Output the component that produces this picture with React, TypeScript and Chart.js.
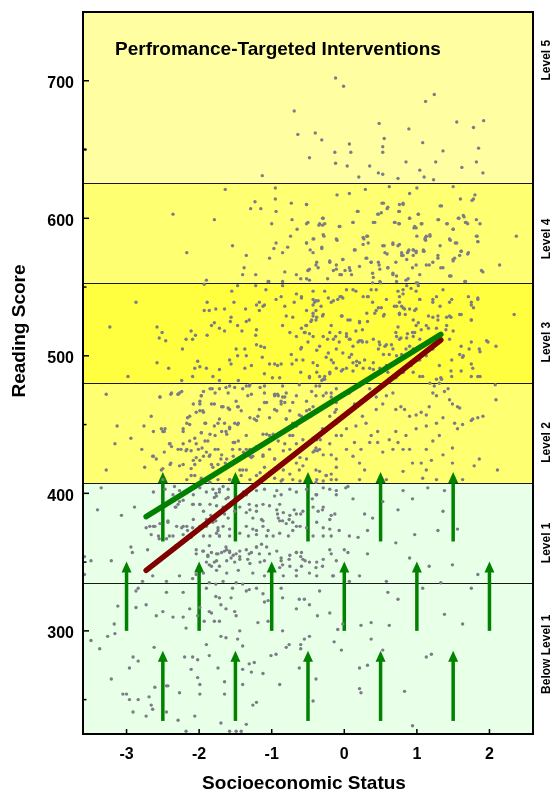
import React, { useEffect, useRef } from "react";
import { Chart, registerables } from "chart.js";

Chart.register(...registerables);

// ---------- axes ----------
const X_MIN = -3.6;
const X_MAX = 2.6;
const Y_MIN = 225;
const Y_MAX = 750;
const xTickValues = [-3, -2, -1, 0, 1, 2];
const yTickValues = [300, 400, 500, 600, 700];
const yMinorTickValues = [250, 350, 450, 550, 650];

// ---------- proficiency bands ----------
const bandCutoffs = [225, 334.75, 407.47, 480.18, 552.89, 625.61, 750];
const bandColors = ["#E8FFE8", "#E8FFE8", "#FFFF72", "#FFFF40", "#FFFF72", "#FFFFA2"];
const bandLabels = ["Below Level 1", "Level 1", "Level 2", "Level 3", "Level 4", "Level 5"];
const bandLabelScores = [283, 364, 437, 510, 585, 715];

// ---------- regression lines ----------
const redLineSES = [-2.73, 1.33];
const redLineScore = [344, 511.5];
const greenLineSES = [-2.73, 1.33];
const greenLineScore = [383, 515.6];

// ---------- intervention arrows ----------
const arrowUpperSES = [-2.5, -1.5, -0.5, 0.5, 1.5];
const arrowUpperFrom = 365;
const arrowUpperTo = 415.5;
const arrowMiddleSES = [-3, -2, -1, 0, 1, 2];
const arrowMiddleFrom = 300;
const arrowMiddleTo = 350.5;
const arrowLowerSES = [-2.5, -1.5, -0.5, 0.5, 1.5];
const arrowLowerFrom = 234.5;
const arrowLowerTo = 285.5;

// ---------- students (SES, reading score) ----------
const studentsLevel5: number[][] = [
  [-0.12,702],[-0.01,696],[1.24,690],[1.12,685],[-0.69,678],[-0.64,661],[-0.4,662],[-0.31,657],[0.48,669],[0.55,658],
  [0.89,665],[1.55,670],[1.92,671],[1.78,666],[1.08,655],[0.07,654],[-0.13,648],[0.09,648],[0.53,652],[0.53,648],
  [1.36,649],[1.85,651],[-0.48,644],[-0.12,640],[0.04,638],[0.35,638],[0.85,641],[1.26,641],[1.82,641],[1.62,637],
  [1.04,635],[1.91,633],[0.47,633],[0.53,632],[1.1,630],[1.23,628],[0.2,630],[0.74,629],[-1.13,631],[-3.57,650],
];

const studentsLevel4: number[][] = [
  [-1.64,621],[-0.95,622],[-0.95,614],[-1.23,612],[-1.29,607],[-1.15,607],[-0.94,605],[-0.73,611],[-0.52,610],[-0.1,617],
  [0.07,618],[0.29,621],[0.62,623],[1.0,622],[1.5,623],[0.9,618],[1.8,617],[1.6,614],[1.76,613],[0.81,610],
  [0.52,611],[0.46,603],[0.59,607],[0.75,605],[1.32,609],[1.02,603],[0.18,605],[-2.36,603],[-1.79,599],[-1.0,596],
  [-0.72,599],[-0.52,596],[-0.3,600],[-0.3,595],[-0.35,595],[-0.07,594],[0.12,597],[0.4,597],[0.69,597],[0.75,596],
  [0.9,600],[1.07,596],[0.96,593],[1.3,599],[1.42,596],[1.58,600],[1.65,601],[1.67,597],[1.5,592],[1.7,596],
  [-0.65,592],[-0.74,587],[-0.94,582],[-0.78,579],[-0.52,582],[-0.42,585],[-0.28,587],[-0.1,584],[0.27,585],[0.32,587],
  [0.26,581],[0.55,580],[0.67,581],[0.74,580],[1.0,587],[1.12,586],[1.18,587],[1.12,584],[1.46,584],[1.53,582],
  [1.83,587],[1.84,583],[2.37,587],[-1.54,580],[-0.97,578],[-0.47,577],[-0.31,578],[0.15,577],[0.89,577],[0.95,577],
  [1.09,577],[1.61,576],[-2.17,575],[-1.35,573],[-1.03,571],[-0.85,575],[-0.43,575],[0.14,577],[0.3,571],[0.37,568],
  [0.59,574],[0.81,573],[0.99,576],[1.1,576],[0.87,575],[1.29,571],[1.5,570],[1.59,573],[1.7,574],[2.14,566],
  [-1.38,564],[-1.22,559],[-1.4,559],[-0.82,561],[-0.66,559],[-0.5,562],[-0.39,566],[-0.2,568],[-0.11,563],[-0.02,570],
  [0.07,564],[-0.04,559],[0.21,565],[0.39,560],[0.48,566],[0.6,564],[0.67,559],[0.71,568],[0.94,564],[1.04,559],
  [1.17,566],[1.33,564],[1.47,558],[1.91,561],[-1.9,555],[-1.04,554],[-0.85,554],[-0.6,556],[-0.48,555],[-0.23,556],
  [0.39,553],[0.5,553],[0.85,555],[1.01,553],[1.67,554],
];

const studentsLevel4Centre: number[][] = [
  [-0.52,610],[0.54,611],[0.76,610],[0.81,611],[1.34,609],[1.78,614],[0.19,605],[-0.29,600],[-0.5,597],[-0.34,596],
  [-0.27,596],[-0.06,594],[0.12,597],[0.42,597],[0.47,603],[0.51,604],[0.6,608],[0.76,605],[0.9,600],[0.7,597],
  [0.76,596],[1.02,603],[0.97,594],[0.99,593],[1.06,596],[1.29,599],[1.41,596],[1.5,592],[1.57,600],[1.64,602],
  [1.68,597],[1.82,599],[1.87,596],[-0.52,582],[-0.43,585],[-0.31,579],[-0.29,588],[-0.11,585],[0.14,577],[0.26,586],
  [0.31,587],[0.33,582],[0.53,580],[0.56,575],[0.67,582],[0.76,581],[0.79,575],[0.88,576],[0.95,577],[0.99,575],
  [1.09,576],[1.13,587],[1.11,585],[1.18,588],[1.32,580],[1.45,585],[1.55,582],[1.61,576],[1.71,575],[1.82,587],
  [1.84,583],[-0.38,568],[-0.48,563],[-0.5,562],[-0.52,556],[-0.36,564],[-0.2,569],[-0.11,566],[-0.15,562],[-0.06,559],
  [0.01,562],[-0.02,570],[0.08,562],[0.1,559],[0.31,571],[0.37,568],[0.47,568],[0.49,563],[0.4,557],[0.6,564],
  [0.67,560],[0.72,558],[0.79,573],[0.86,570],[0.95,573],[0.99,566],[1.13,566],[1.22,568],[1.29,573],[1.36,564],
  [1.45,558],[1.5,569],[1.52,571],[1.66,554],[1.89,562],[0.49,554],[0.72,554],[0.88,556],[0.99,553],
];

const studentsLevel3: number[][] = [
  [-2.87,539],[-3.23,521],[-2.98,485],[-2.58,521],[-2.51,517],[-2.55,513],[-2.46,511],[-2.58,495],[-2.42,491],[-1.93,552],
  [-1.89,539],[-1.93,533],[-1.86,533],[-1.77,534],[-1.65,534],[-1.79,524],[-1.83,522],[-1.72,520],[-1.65,518],[-1.89,515],
  [-2.11,518],[-2.18,512],[-2.09,512],[-2.05,515],[-2.23,505],[-2.02,496],[-2.06,491],[-1.99,492],[-1.9,491],[-2.09,485],
  [-1.81,485],[-1.72,490],[-1.58,497],[-1.55,547],[-1.47,551],[-1.52,539],[-1.56,528],[-1.57,525],[-1.47,522],[-1.41,518],
  [-1.35,525],[-1.31,526],[-1.21,519],[-1.22,515],[-1.21,537],[-1.17,539],[-1.1,537],[-1.17,533],[-1.12,536],[-1.36,534],
  [-1.05,554],[-1.49,505],[-1.47,500],[-1.37,505],[-1.35,500],[-1.37,491],[-1.28,493],[-1.56,494],[-1.21,508],[-1.15,507],
  [-1.1,506],[-1.13,499],[-1.03,494],[-0.96,494],[-0.92,493],[-0.87,494],[-0.99,484],[-0.89,484],[-1.1,487],[-0.94,541],
  [-0.87,543],[-0.82,536],[-0.66,545],[-0.59,542],[-0.69,539],[-0.8,529],[-0.71,528],[-0.85,522],[-0.75,517],[-0.66,514],
  [-0.59,520],[-0.55,517],[-0.48,516],[-0.43,529],[-0.39,533],[-0.43,537],[-0.39,540],[-0.32,536],[-0.3,529],[-0.39,526],
  [-0.46,525],[-0.53,522],[-0.18,539],[-0.09,541],[-0.04,543],[-0.03,529],[0.05,526],[-0.23,512],[-0.12,514],[0.03,514],
  [0.07,512],[0.21,511],[0.25,510],[0.16,518],[0.21,524],[0.32,525],[0.25,519],[-0.07,510],[-0.11,505],[-0.34,507],
  [-0.25,499],[-0.18,497],[-0.37,493],[-0.43,495],[-0.57,497],[-0.66,497],[-0.73,501],[-0.72,494],[-0.6,505],[-0.6,488],
  [-0.48,484],[-0.34,485],[-0.27,483],[-0.2,487],[-0.04,489],[0.03,491],[0.12,495],[0.21,495],[0.07,499],[0.35,491],
  [0.42,487],[0.35,484],[0.44,548],[0.32,543],[0.39,539],[0.44,533],[0.51,535],[0.55,530],[0.69,536],[0.76,539],
  [0.81,535],[0.76,530],[0.84,530],[0.74,521],[0.71,517],[0.78,513],[0.87,516],[0.94,517],[0.99,522],[1.06,519],
  [1.13,522],[1.22,528],[1.29,526],[1.22,539],[0.99,534],[1.04,541],[0.92,549],[0.99,547],[1.36,548],[1.45,539],
  [1.59,530],[1.75,537],[1.84,541],[1.75,526],[1.47,528],[1.4,519],[1.45,512],[1.61,507],[1.72,505],[1.86,505],
  [1.98,510],[2.09,507],[2.34,530],[1.77,491],[1.84,485],[1.75,485],[1.63,499],[1.31,493],[1.33,484],[1.47,489],
  [1.1,502],[1.01,497],[0.92,493],[0.81,488],[0.71,484],[0.58,493],[0.62,501],[0.58,508],[0.48,510],[0.85,505],
  [1.22,507],[1.27,483],[1.08,485],[-0.85,551],[-1.08,548],[-1.22,551],[-0.43,547],[-0.27,547],[0.03,548],[0.16,547],
  [0.74,547],[0.81,545],[1.27,543],
];

const studentsLevel3Centre: number[][] = [
  [-0.59,543],[-0.43,541],[-0.41,539],[-0.36,540],[-0.22,542],[-0.15,540],[-0.06,543],[-0.02,542],[0.12,548],[0.26,543],
  [0.33,543],[0.37,548],[0.58,541],[0.76,543],[0.86,551],[0.81,548],[1.02,551],[1.04,541],[1.22,541],[1.32,536],
  [1.48,541],[1.71,543],[1.84,542],[-0.43,531],[-0.52,533],[-0.29,530],[-0.45,526],[-0.38,528],[-0.52,522],[-0.54,517],
  [-0.43,514],[-0.5,510],[-0.59,506],[-0.18,522],[-0.04,529],[0.08,526],[0.21,525],[0.31,531],[0.42,531],[0.47,535],
  [0.54,529],[0.72,536],[0.76,531],[0.79,536],[0.83,534],[0.9,534],[0.97,533],[0.95,526],[1.02,524],[1.16,529],
  [1.29,529],[1.27,520],[1.41,528],[1.45,529],[1.61,530],[1.75,526],[1.78,535],[1.75,539],[-0.29,514],[-0.2,517],
  [-0.15,512],[-0.06,517],[0.03,516],[0.08,512],[0.12,507],[0.19,510],[0.24,511],[0.31,510],[0.4,512],[0.49,508],
  [0.56,507],[0.65,508],[0.72,514],[0.76,512],[0.86,513],[0.95,514],[0.97,517],[1.04,512],[1.16,520],[1.41,522],
  [1.5,518],[1.75,510],[1.87,503],[1.96,511],[-0.38,504],[-0.22,502],[-0.15,495],[-0.02,502],[0.1,501],[0.17,496],
  [0.28,497],[0.4,495],[0.47,505],[0.54,501],[0.67,505],[0.72,500],[0.79,501],[0.9,507],[0.95,505],[1.04,497],
  [1.13,500],[1.22,505],[1.48,497],[1.59,501],[1.64,500],[1.75,494],[1.87,485],[1.61,489],[1.48,485],[1.34,483],
  [1.18,480],[1.04,485],[0.95,488],[0.81,488],[0.72,485],[0.6,488],[0.49,491],[0.4,490],[0.26,491],[0.17,493],
  [0.12,489],[-0.02,490],[-0.11,491],[-0.2,488],[-0.29,483],[-0.38,488],[-0.48,485],[-0.27,485],
];

const studentsLevel2: number[][] = [
  [-3.28,472],[-3.13,449],[-3.16,436],[-2.94,440],[-3.28,417],[-2.76,449],[-2.66,456],[-2.79,432],[-2.75,419],[-2.64,427],
  [-2.52,447],[-2.48,445],[-2.54,470],[-2.39,472],[-2.48,430],[-2.41,436],[-2.39,422],[-2.27,473],[-2.29,472],[-2.22,445],
  [-2.13,450],[-2.16,455],[-2.25,432],[-2.18,431],[-2.13,438],[-2.06,440],[-2.04,459],[-1.99,465],[-1.97,471],[-1.95,460],
  [-1.91,451],[-1.97,444],[-1.96,433],[-2.04,426],[-2.06,421],[-2.11,413],[-1.97,410],[-1.9,430],[-1.86,427],[-1.88,438],
  [-1.82,476],[-1.79,465],[-1.79,449],[-1.72,454],[-1.74,432],[-1.7,425],[-1.67,463],[-1.6,462],[-1.63,477],[-1.58,478],
  [-1.49,467],[-1.47,463],[-1.51,451],[-1.47,450],[-1.63,445],[-1.51,437],[-1.54,432],[-1.64,422],[-1.49,424],[-1.58,410],
  [-1.4,476],[-1.33,471],[-1.31,478],[-1.24,454],[-1.19,456],[-1.17,461],[-1.1,466],[-0.96,471],[-0.92,472],[-0.85,470],
  [-0.96,461],[-0.87,465],[-0.82,466],[-1.21,434],[-1.28,426],[-1.35,432],[-1.4,417],[-1.12,427],[-1.03,442],[-0.96,425],
  [-0.8,454],[-0.71,451],[-0.66,449],[-0.62,457],[-0.46,456],[-0.43,463],[-0.48,461],[-0.39,471],[-0.25,473],[-0.18,470],
  [-0.11,476],[-0.02,471],[0.07,473],[-0.71,442],[-0.57,439],[-0.43,438],[-0.39,433],[-0.37,431],[-0.43,430],[-0.33,439],
  [-0.66,422],[-0.39,417],[-0.25,413],[-0.11,425],[0.03,432],[0.12,427],[0.21,422],[0.28,417],[0.23,432],[0.14,437],
  [-0.04,442],[0.03,447],[0.16,449],[0.3,451],[0.25,456],[0.37,442],[0.46,445],[0.46,437],[0.35,437],[0.53,430],
  [0.62,439],[0.71,445],[0.74,437],[0.67,432],[0.81,432],[0.85,442],[0.81,416],[0.94,422],[1.06,422],[1.2,424],
  [1.13,417],[1.27,410],[0.53,465],[0.58,471],[0.67,473],[0.71,461],[0.78,463],[0.83,461],[0.9,456],[0.99,457],
  [1.06,459],[1.13,457],[1.17,463],[1.22,473],[1.27,471],[1.24,478],[1.31,480],[1.38,474],[1.45,468],[1.43,476],
  [1.49,465],[1.56,463],[1.59,462],[0.99,447],[1.13,449],[1.27,451],[1.31,442],[1.36,455],[1.52,451],[1.56,447],
  [1.63,450],[1.77,454],[1.84,455],[1.91,456],[1.75,453],[2.09,468],[2.08,479],[2.11,417],[1.86,425],[1.79,420],
  [1.49,422],[1.36,428],[1.49,433],[1.22,438],[1.13,432],[0.9,432],[0.21,478],[0.14,465],[0.35,476],[0.44,470],
  [0.44,461],[-0.11,461],[-0.2,456],[-0.11,451],[-0.3,447],[-1.1,478],[-0.85,478],[-0.62,479],[-0.39,478],[-0.71,466],
  [-1.21,413],[-1.03,415],[-0.85,410],[-0.62,417],[-0.39,408],[-0.11,410],[0.05,405],[0.21,410],[0.58,410],[1.08,411],
  [1.63,410],[-2.5,410],[-2.34,405],
];

const studentsLevel2Centre: number[][] = [
  [-2.24,482],[-1.72,482],[-1.46,482],[-0.31,482],[-2.54,470],[-2.38,473],[-2.29,472],[-2.24,474],[-2.08,465],[-1.99,467],
  [-1.97,471],[-1.94,474],[-1.83,465],[-1.85,476],[-1.78,473],[-1.72,476],[-1.69,463],[-1.6,473],[-1.58,461],[-1.51,477],
  [-1.46,463],[-1.42,460],[-1.35,478],[-1.3,479],[-1.16,477],[-1.28,472],[-1.1,473],[-1.07,466],[-0.96,472],[-0.91,471],
  [-0.87,467],[-0.82,470],[-0.93,460],[-0.8,473],[-0.66,471],[-0.52,467],[-0.45,474],[-0.34,478],[-0.29,471],[-0.18,473],
  [-0.11,466],[-0.13,459],[-0.38,459],[-0.52,460],[-0.59,456],[-0.75,460],[-0.8,454],[-1.03,455],[-1.21,453],[-1.3,455],
  [-1.46,451],[-1.58,448],[-1.65,451],[-1.74,451],[-1.92,451],[-1.94,459],[-1.99,460],[-2.13,456],[-2.17,451],[-2.22,447],
  [-2.5,445],[-2.47,447],[-2.63,445],[-2.4,436],[-2.38,434],[-2.29,432],[-2.22,436],[-2.17,432],[-2.11,431],[-2.04,436],
  [-2.01,432],[-1.92,438],[-1.97,444],[-1.85,443],[-1.78,442],[-1.69,445],[-1.62,443],[-1.58,447],[-1.53,437],[-1.46,438],
  [-1.44,432],[-1.35,442],[-1.3,432],[-1.21,432],[-1.12,443],[-1.07,443],[-0.98,443],[-0.91,438],[-0.82,436],[-0.75,442],
  [-0.66,436],[-0.59,432],[-0.52,436],[-0.43,440],[-0.38,439],[-0.34,432],[-0.2,436],[-0.11,442],[-0.18,428],[-0.29,428],
  [-0.41,431],[-0.52,425],[-0.61,426],[-0.71,428],[-0.75,432],[-0.84,431],[-0.96,425],[-1.03,432],[-1.12,428],[-1.26,427],
  [-1.3,427],[-1.39,430],[-1.53,427],[-1.62,425],[-1.69,428],[-1.78,432],[-1.85,428],[-1.94,427],[-1.99,424],[-2.08,424],
  [-2.11,418],[-2.06,413],[-1.97,411],[-2.22,421],[-2.27,420],[-2.4,421],[-2.5,418],[-2.52,417],[-2.63,427],[-2.59,425],
  [-1.83,421],[-1.74,421],[-1.81,419],[-1.65,419],[-1.44,417],[-1.35,417],[-1.42,413],[-1.3,410],[-0.84,417],[-0.75,414],
  [-0.57,420],[-0.34,416],[-0.25,413],[-0.18,414],[-0.11,419],[-0.18,410],[-0.29,409],[-0.38,410],[-0.61,409],[-0.71,410],
  [-1.1,419],[-1.16,415],[-0.96,411],[-0.87,409],[-1.58,410],[-1.74,410],[-1.85,408],[-2.17,410],
];

const studentsLow: number[][] = [
  [-3.35,404],[-3.4,388],[-3.58,354],[-3.49,351],[-3.58,341],[-3.21,351],[-3.07,384],[-2.89,390],[-2.94,361],[-2.92,357],
  [-2.73,375],[-2.68,376],[-2.61,376],[-2.66,370],[-2.71,359],[-2.55,367],[-2.41,369],[-2.43,380],[-2.32,390],[-2.27,394],
  [-2.22,376],[-2.09,375],[-2.09,392],[-1.99,392],[-2.16,373],[-2.32,362],[-2.04,359],[-1.95,358],[-1.88,354],[-1.86,348],
  [-1.79,350],[-1.74,356],[-1.86,362],[-1.65,358],[-1.63,361],[-1.58,358],[-1.49,356],[-1.44,354],[-1.56,353],[-1.9,376],
  [-1.84,384],[-1.77,380],[-1.74,373],[-1.72,369],[-1.79,397],[-1.77,400],[-1.72,403],[-1.67,390],[-1.63,396],[-1.35,399],
  [-1.31,392],[-1.21,387],[-1.26,382],[-1.21,373],[-1.12,380],[-1.21,361],[-1.31,356],[-1.33,352],[-1.17,356],[-1.1,351],
  [-1.03,356],[-0.96,398],[-0.89,392],[-0.92,385],[-0.85,380],[-0.76,381],[-0.66,376],[-0.69,388],[-0.6,385],[-0.44,396],
  [-0.39,399],[-0.3,388],[-0.2,381],[-0.11,402],[0.02,404],[-0.07,373],[0.07,369],[0.19,368],[0.32,373],[0.39,382],
  [0.28,385],[0.12,396],[0.53,394],[0.71,364],[0.81,402],[0.74,388],[0.94,396],[0.97,370],[1.15,404],[1.29,373],
  [1.36,387],[1.56,374],[1.38,402],[-0.66,357],[-0.6,354],[-0.57,352],[-0.76,352],[-0.85,348],[-0.87,353],[-0.48,350],
  [-0.39,346],[-0.3,347],[-0.2,359],[0.0,359],[0.05,357],[0.32,356],[-0.16,340],[0.07,336],[0.21,340],[0.9,353],
  [1.17,347],[1.49,348],[1.84,341],[1.33,335],[0.58,336],[1.08,331],[1.75,331],[-2.04,341],[-2.09,338],[-2.27,340],
  [-2.45,336],[-2.64,340],[-2.78,336],[-2.84,331],[-2.87,329],[-1.86,335],[-1.9,331],[-1.77,334],[-1.67,336],[-1.49,335],
  [-1.4,334],[-1.35,329],[-1.31,330],[-1.21,331],[-1.12,327],[-1.1,321],[-1.05,322],[-0.85,324],[-0.87,331],[-1.54,331],
  [-1.56,324],[-1.72,324],[-1.77,325],[-1.7,319],[-1.86,314],[-1.83,313],[-1.99,317],[-2.13,316],[-2.22,328],[-2.45,328],
  [-2.5,314],[-2.59,311],[-2.73,319],[-2.87,317],[-3.12,318],[-3.17,305],[-3.16,298],[-3.26,296],[-3.49,293],[-3.37,287],
  [-2.36,310],[-2.22,310],[-2.18,302],[-2.02,311],[-1.93,307],[-1.79,307],[-1.72,307],[-1.63,316],[-1.51,314],[-1.49,311],
  [-1.44,300],[-1.7,296],[-1.63,295],[-1.47,294],[-1.19,306],[-1.05,307],[-0.85,300],[-0.66,316],[-0.62,323],[-0.55,323],
  [-0.48,319],[-0.34,329],[-0.37,311],[-0.2,313],[-0.09,301],[-0.02,305],[0.23,304],[0.37,306],[0.37,294],[0.62,304],
  [0.74,323],[0.6,328],[1.38,312],[1.63,305],[-0.48,296],[-0.55,294],[-0.76,290],[-0.8,288],[-0.6,290],[-0.6,287],
  [-0.14,292],[-0.04,286],[-0.94,283],[-1.01,282],[-1.4,289],[-1.9,290],[-2.62,288],[-2.91,281],[-2.84,278],[-2.96,273],
  [-3.21,265],[-2.2,281],[-2.09,281],[-2.02,279],[-1.86,282],[-1.74,273],[-2.11,272],[-2.02,266],[-1.99,261],[-2.27,255],
  [-2.45,260],[-2.61,259],[-2.69,252],[-2.66,246],[-2.64,243],[-2.73,238],[-3.05,254],[-3.0,254],[-2.96,250],[-2.84,250],
  [-2.91,241],[-2.45,241],[-2.43,260],[-2.29,235],[-2.18,227],[-2.06,238],[-1.99,254],[-1.7,233],[-1.65,254],[-1.65,263],
  [-1.58,227],[-1.49,227],[-1.42,227],[-1.35,232],[-1.4,272],[-1.4,261],[-1.31,276],[-1.24,277],[-1.28,270],[-1.12,269],
  [-1.21,248],[-1.26,246],[-0.89,261],[-0.62,273],[-0.39,265],[-0.43,249],[0.21,273],[0.32,275],[0.21,258],[0.23,255],
  [0.53,286],[1.13,281],[1.2,283],[0.83,256],[0.94,231],
];

const studentsLevel1Centre: number[][] = [
  [-2.63,401],[-2.47,403],[-2.36,399],[-2.27,402],[-2.08,399],[-1.99,404],[-1.9,401],[-1.81,403],[-1.76,398],[-1.72,401],
  [-1.67,405],[-1.6,403],[-1.6,397],[-1.39,401],[-1.21,402],[-1.1,403],[-0.93,402],[-0.87,399],[-0.75,403],[-0.66,401],
  [-0.52,403],[-0.38,399],[-0.29,404],[-0.2,403],[-0.11,399],[-2.63,376],[-2.54,378],[-2.43,379],[-2.31,376],[-2.24,375],
  [-2.17,376],[-2.33,390],[-2.29,392],[-2.22,395],[-2.08,392],[-1.99,392],[-1.94,387],[-1.85,392],[-1.76,391],[-1.69,387],
  [-1.65,385],[-1.6,382],[-1.51,387],[-1.44,390],[-1.35,386],[-1.3,388],[-1.21,391],[-1.12,392],[-1.03,391],[-0.93,388],
  [-0.84,386],[-0.75,384],[-0.66,385],[-0.57,387],[-0.43,390],[-0.36,387],[-0.29,390],[-0.18,384],[-0.13,385],[-2.08,381],
  [-1.99,376],[-1.9,381],[-1.81,379],[-1.74,375],[-1.67,376],[-1.58,374],[-1.35,376],[-1.26,374],[-1.14,381],[-1.12,376],
  [-1.05,373],[-0.91,382],[-0.89,380],[-0.8,378],[-0.71,379],[-0.61,376],[-0.52,375],[-0.38,379],[-0.29,375],[-0.2,374],
  [-2.56,369],[-2.45,367],[-2.36,369],[-2.22,370],[-2.11,368],[-1.94,369],[-1.85,369],[-1.76,371],[-1.72,369],[-1.58,369],
  [-1.44,371],[-1.32,369],[-1.21,370],[-1.07,369],[-0.98,369],[-0.89,371],[-0.77,369],[-0.71,373],[-0.43,369],[-0.29,369],
  [-0.18,369],[-2.04,356],[-1.94,358],[-1.88,355],[-1.83,357],[-1.76,356],[-1.69,357],[-1.62,359],[-1.58,357],[-1.53,355],
  [-1.44,358],[-1.35,359],[-1.28,357],[-1.21,361],[-1.14,363],[-1.07,361],[-0.93,358],[-0.87,351],[-0.75,355],[-0.66,357],
  [-0.59,357],[-0.54,351],[-0.38,350],[-0.29,352],[-0.18,356],[-0.11,351],[-1.9,350],[-1.83,347],[-1.76,351],[-1.72,347],
  [-1.62,351],[-1.51,350],[-1.44,352],[-1.3,349],[-1.16,350],[-0.89,346],[-0.75,347],[-0.66,344],[-0.59,347],[-0.48,342],
  [-1.94,342],[-1.76,344],[-1.62,342],[-1.46,344],[-1.26,342],[-1.1,340],[-0.84,340],[-0.66,340],[-0.38,340],[-0.15,340],
];

const FONT = "'Liberation Sans', Arial, Helvetica, sans-serif";

const decorPlugin = {
  id: "decor",
  beforeDatasetsDraw(chart: any) {
    const { ctx, chartArea: a, scales } = chart;
    const x = scales.x;
    const y = scales.y;
    ctx.save();
    for (let i = 0; i < bandColors.length; i++) {
      const top = y.getPixelForValue(bandCutoffs[i + 1]);
      const bot = y.getPixelForValue(bandCutoffs[i]);
      ctx.fillStyle = bandColors[i];
      ctx.fillRect(a.left, top, a.right - a.left, bot - top);
    }
    ctx.strokeStyle = "#1a1a1a";
    ctx.lineWidth = 1;
    for (let i = 1; i < bandCutoffs.length - 1; i++) {
      const py = Math.round(y.getPixelForValue(bandCutoffs[i])) + 0.5;
      ctx.beginPath();
      ctx.moveTo(a.left, py);
      ctx.lineTo(a.right, py);
      ctx.stroke();
    }
    const drawArrow = (sx: number, from: number, to: number) => {
      const px = x.getPixelForValue(sx);
      const pb = y.getPixelForValue(from);
      const pt = y.getPixelForValue(to);
      const headH = 11;
      const headW = 5;
      ctx.strokeStyle = "#008200";
      ctx.fillStyle = "#008200";
      ctx.lineWidth = 3.5;
      ctx.lineCap = "butt";
      ctx.beginPath();
      ctx.moveTo(px, pb);
      ctx.lineTo(px, pt + headH - 1);
      ctx.stroke();
      ctx.beginPath();
      ctx.moveTo(px, pt);
      ctx.lineTo(px - headW, pt + headH);
      ctx.lineTo(px + headW, pt + headH);
      ctx.closePath();
      ctx.fill();
    };
    arrowUpperSES.forEach((s) => drawArrow(s, arrowUpperFrom, arrowUpperTo));
    arrowMiddleSES.forEach((s) => drawArrow(s, arrowMiddleFrom, arrowMiddleTo));
    arrowLowerSES.forEach((s) => drawArrow(s, arrowLowerFrom, arrowLowerTo));
    ctx.restore();
  },
  afterDraw(chart: any) {
    const { ctx, chartArea: a, scales } = chart;
    const x = scales.x;
    const y = scales.y;
    ctx.save();
    ctx.strokeStyle = "#000";
    ctx.lineWidth = 2;
    ctx.strokeRect(a.left, a.top, a.right - a.left, a.bottom - a.top);
    ctx.lineWidth = 1.5;
    yTickValues.forEach((v) => {
      const py = y.getPixelForValue(v);
      ctx.beginPath();
      ctx.moveTo(a.left, py);
      ctx.lineTo(a.left + 6, py);
      ctx.stroke();
    });
    yMinorTickValues.forEach((v) => {
      const py = y.getPixelForValue(v);
      ctx.beginPath();
      ctx.moveTo(a.left, py);
      ctx.lineTo(a.left + 3.5, py);
      ctx.stroke();
    });
    xTickValues.forEach((v) => {
      const px = x.getPixelForValue(v);
      ctx.beginPath();
      ctx.moveTo(px, a.bottom);
      ctx.lineTo(px, a.bottom - 5);
      ctx.stroke();
    });
    ctx.fillStyle = "#000";
    ctx.font = `bold 19px ${FONT}`;
    ctx.textAlign = "left";
    ctx.textBaseline = "alphabetic";
    ctx.fillText("Perfromance-Targeted Interventions", a.left + 32, a.top + 43);
    ctx.textAlign = "center";
    ctx.textBaseline = "middle";
    ctx.fillText("Socioeconomic Status", 304, 784);
    ctx.save();
    ctx.translate(20, 331);
    ctx.rotate(-Math.PI / 2);
    ctx.fillText("Reading Score", 0, 0);
    ctx.restore();
    ctx.font = `bold 12px ${FONT}`;
    bandLabels.forEach((label, i) => {
      const py = y.getPixelForValue(bandLabelScores[i]);
      ctx.save();
      ctx.translate(a.right + 13.5, py);
      ctx.rotate(-Math.PI / 2);
      ctx.fillText(label, 0, 0);
      ctx.restore();
    });
    ctx.restore();
  },
};

export default function App() {
  const canvasRef = useRef<HTMLCanvasElement | null>(null);

  useEffect(() => {
    const canvas = canvasRef.current;
    if (!canvas) return;
    const toPts = (arr: number[][]) => arr.map(([sx, sc]) => ({ x: sx, y: sc }));
    const students = [
      ...toPts(studentsLevel5),
      ...toPts(studentsLevel4),
      ...toPts(studentsLevel4Centre),
      ...toPts(studentsLevel3),
      ...toPts(studentsLevel3Centre),
      ...toPts(studentsLevel2),
      ...toPts(studentsLevel2Centre),
      ...toPts(studentsLow),
      ...toPts(studentsLevel1Centre),
    ];
    const chart = new Chart(canvas, {
      type: "scatter",
      data: {
        datasets: [
          {
            label: "Green",
            data: greenLineSES.map((s, i) => ({ x: s, y: greenLineScore[i] })),
            showLine: true,
            borderColor: "#008000",
            borderWidth: 5.5,
            borderCapStyle: "round",
            pointRadius: 0,
          },
          {
            label: "Red",
            data: redLineSES.map((s, i) => ({ x: s, y: redLineScore[i] })),
            showLine: true,
            borderColor: "#800000",
            borderWidth: 5.5,
            borderCapStyle: "round",
            pointRadius: 0,
          },
          {
            label: "Students",
            data: students,
            pointRadius: 1.7,
            pointBackgroundColor: "#7c7c86",
            pointBorderWidth: 0,
          },
        ],
      } as any,
      options: {
        responsive: false,
        animation: false,
        devicePixelRatio: 1,
        layout: { padding: { top: 12, right: 20, left: 0, bottom: 0 } },
        plugins: { legend: { display: false }, tooltip: { enabled: false } },
        scales: {
          x: {
            type: "linear",
            min: X_MIN,
            max: X_MAX,
            grid: { display: false, drawTicks: false },
            border: { display: false },
            afterBuildTicks: (s: any) => {
              s.ticks = xTickValues.map((v) => ({ value: v }));
            },
            afterFit: (s: any) => {
              s.height = 57;
              s.paddingLeft = 0;
              s.paddingRight = 0;
            },
            ticks: {
              color: "#000",
              padding: 11,
              font: { family: FONT, size: 16, weight: "bold" },
              maxRotation: 0,
              autoSkip: false,
            },
          },
          y: {
            type: "linear",
            min: Y_MIN,
            max: Y_MAX,
            grid: { display: false, drawTicks: false },
            border: { display: false },
            afterBuildTicks: (s: any) => {
              s.ticks = yTickValues.map((v) => ({ value: v }));
            },
            afterFit: (s: any) => {
              s.width = 83;
              s.paddingTop = 0;
              s.paddingBottom = 0;
            },
            ticks: {
              color: "#000",
              padding: 9,
              labelOffset: 3,
              font: { family: FONT, size: 16, weight: "bold" },
              autoSkip: false,
            },
          },
        },
      } as any,
      plugins: [decorPlugin],
    });
    return () => chart.destroy();
  }, []);

  return (
    <div
      style={{
        position: "fixed",
        left: 0,
        top: 0,
        width: 553,
        height: 791,
        background: "#fff",
      }}
    >
      <canvas ref={canvasRef} width={553} height={791} style={{ display: "block" }} />
    </div>
  );
}
